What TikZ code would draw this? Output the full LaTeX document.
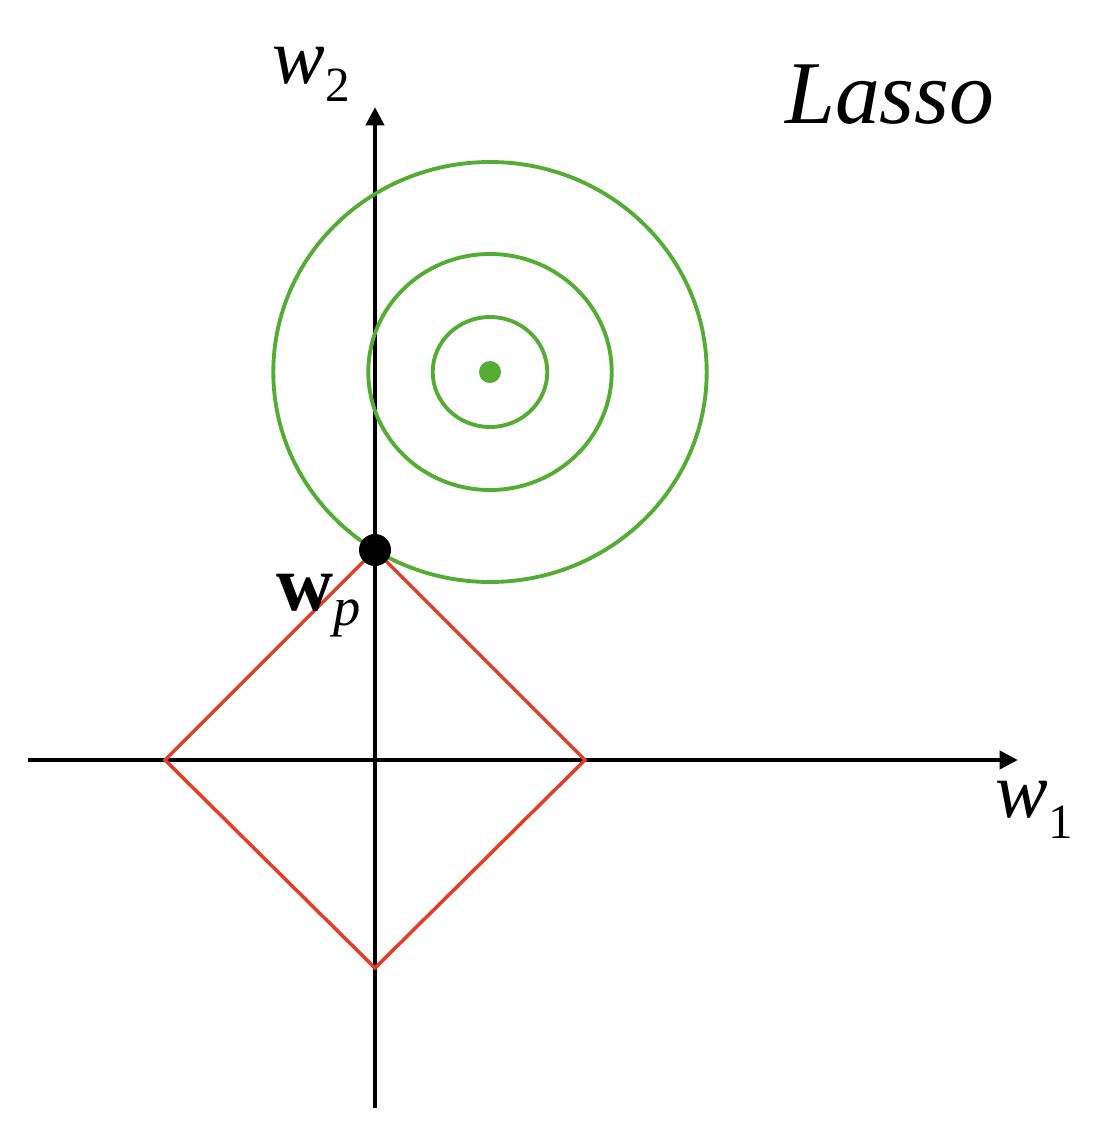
\documentclass[tikz,border=0pt]{standalone}
\usepackage{fontspec}
\setmainfont{Liberation Serif}
\usetikzlibrary{arrows.meta}
\definecolor{lossgreen}{RGB}{84,172,52}
\definecolor{normred}{RGB}{226,62,40}
\tikzset{
  axis/.style={line width=2.6pt, -{Triangle[width=10.2pt,length=10.5pt]}},
  normline/.style={normred, line width=2pt, line join=miter},
  contour/.style={lossgreen, line width=2.2pt},
  lab/.style={anchor=base west, inner sep=0pt}
}
\newcommand{\varlab}[3]{\fontsize{45}{50}\selectfont#1\raisebox{#3}{\fontsize{28}{30}\selectfont #2}}
\begin{document}
\begin{tikzpicture}[x=0.02cm, y=-0.02cm]
			\useasboundingbox (0,0) rectangle (1100,1136);
			\coordinate (O) at (375,760);
			\coordinate (C) at (490,372);
			% axes
			\draw[axis] (28,760) -- (1018,760);
			\draw[axis] (375,1108) -- (375,107);
			% l1 ball
			\draw[normline] (165,760) -- (375,550) -- (585,760) -- (375,968) -- cycle;
			% loss contours
			\foreach \rx/\ry in {216.7/210, 121.7/118, 57.3/55}
			{
				\draw[contour] (C) ellipse [x radius=\rx, y radius=\ry];
			}
			\fill[lossgreen] (C) circle (11);
			\fill[black] (375,550) circle (16);
			% labels
			\node[lab] (w2) at (272,83) {\varlab{\textit{w}}{2}{-10.5pt}};
			\node[lab] (w1) at (995,817) {\varlab{\textit{w}}{1}{-12.5pt}};
			\node[lab] (wp) at (276,610) {\fontsize{45}{50}\selectfont\textbf{w}\raisebox{-9pt}{\fontsize{31}{34}\selectfont\textit{p}}};
			\node[lab] (lasso) at (785,123) {\fontsize{51}{60}\selectfont\textit{Lasso}};
\end{tikzpicture}
\end{document}
